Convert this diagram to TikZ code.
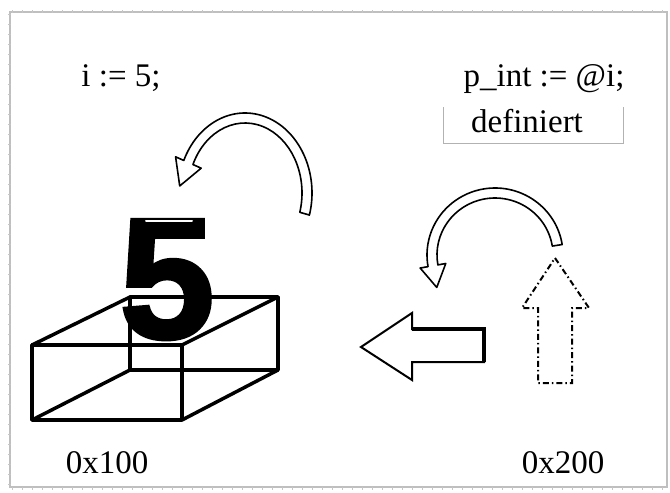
\documentclass[tikz,border=0pt]{standalone}
\usepackage{fontspec}
\setmainfont{Liberation Serif}
\newfontfamily\digitfont{Liberation Sans}[FakeBold=2]
\usetikzlibrary{calc}
\begin{document}
\begin{tikzpicture}[x=1pt,y=-1pt,
  label/.style={font=\fontsize{33}{40}\selectfont, inner sep=0pt, anchor=base},
  boxedge/.style={line width=3.5pt, line join=round, line cap=round},
  bandarrow/.style={draw, line width=1.6pt, line join=round, fill=white},
  blockarrow/.style={draw, line width=2pt, line join=miter, fill=white},
  ghostarrow/.style={draw, line width=2pt, dash pattern=on 6pt off 3pt on 1.5pt off 3pt},
  frameline/.style={draw=gray!50, line width=1.4pt},
  frameticks/.style={draw=gray!45, line width=3pt, dash pattern=on 1.2pt off 8.8pt}]
\useasboundingbox (0,0) rectangle (670,493);

% outer frame with ruler ticks
\draw[frameline] (10,12) rectangle (667,487);
\draw[frameticks] (12,11) -- (667,11);
\draw[frameticks] (9,14) -- (9,487);
\draw[frameticks] (12,488) -- (667,488);

% code texts
\node[label] (assign) at (121,86) {i := 5;};
\node[label] (pointer) at (544,86) {p\_int := @i;};
\node[label] (state) at (527,132) {definiert};
\draw[gray!60, line width=1pt] (443,107) -- (443,143) -- (623,143) -- (623,107);

% addresses
\node[label] (addrA) at (107,473) {0x100};
\node[label] (addrB) at (563,473) {0x200};

% the value 5, heavy, with a highlight on its top bar
\node[font=\digitfont\bfseries\fontsize{172}{172}\selectfont, inner sep=0pt, anchor=base] (value) at (167,338) {5};
\draw[white, line width=2pt, line cap=round] (146,221) -- (192,221);

% memory cell as a wire-frame box
\coordinate (A) at (32,345);
\coordinate (B) at (182,345);
\coordinate (C) at (182,420);
\coordinate (D) at (32,420);
\coordinate (E) at (130,297);
\coordinate (F) at (278,297);
\coordinate (G) at (278,370);
\coordinate (H) at (130,370);
\draw[boxedge] (A) -- (B) -- (C) -- (D) -- cycle;
\draw[boxedge] (E) -- (F) -- (G) -- (H) -- cycle;
\draw[boxedge] (A) -- (E) (B) -- (F) (C) -- (G) (D) -- (H);

% curved arrow above the cell
\coordinate (c1) at (245,193);
\draw[bandarrow]
  ($(c1)+(16:67 and 80)$) arc[start angle=16, end angle=-156, x radius=67, y radius=80]
  -- ($(c1)+(-156:76 and 89)$)
  -- ($(c1)+(-156:62 and 75)+(110.2:25)$)
  -- ($(c1)+(-156:48 and 61)$)
  -- ($(c1)+(-156:57 and 70)$)
  arc[start angle=-156, end angle=16, x radius=57, y radius=70]
  -- cycle;

% curved arrow above the pointer
\coordinate (c2) at (495,255);
\draw[bandarrow]
  ($(c2)+(-9:68 and 67)$) arc[start angle=-9, end angle=-190, x radius=68, y radius=67]
  -- ($(c2)+(-190:76 and 75)$)
  -- ($(c2)+(-190:63 and 62)+(80:22)$)
  -- ($(c2)+(-190:50 and 49)$)
  -- ($(c2)+(-190:58 and 57)$)
  arc[start angle=-190, end angle=-9, x radius=58, y radius=57]
  -- cycle;

% block arrow from pointer to cell
\draw[blockarrow] (361,347) -- (412,313) -- (412,329) -- (484,329) -- (484,362)
  -- (412,362) -- (412,380) -- cycle;
\draw[line width=3.5pt, line join=miter] (412,329) -- (484,329) -- (484,362);

% dashed pointer arrow
\draw[ghostarrow] (555,258) -- (589,308) -- (572,308) -- (572,383) -- (538,383)
  -- (538,308) -- (522,308) -- cycle;
\end{tikzpicture}
\end{document}
